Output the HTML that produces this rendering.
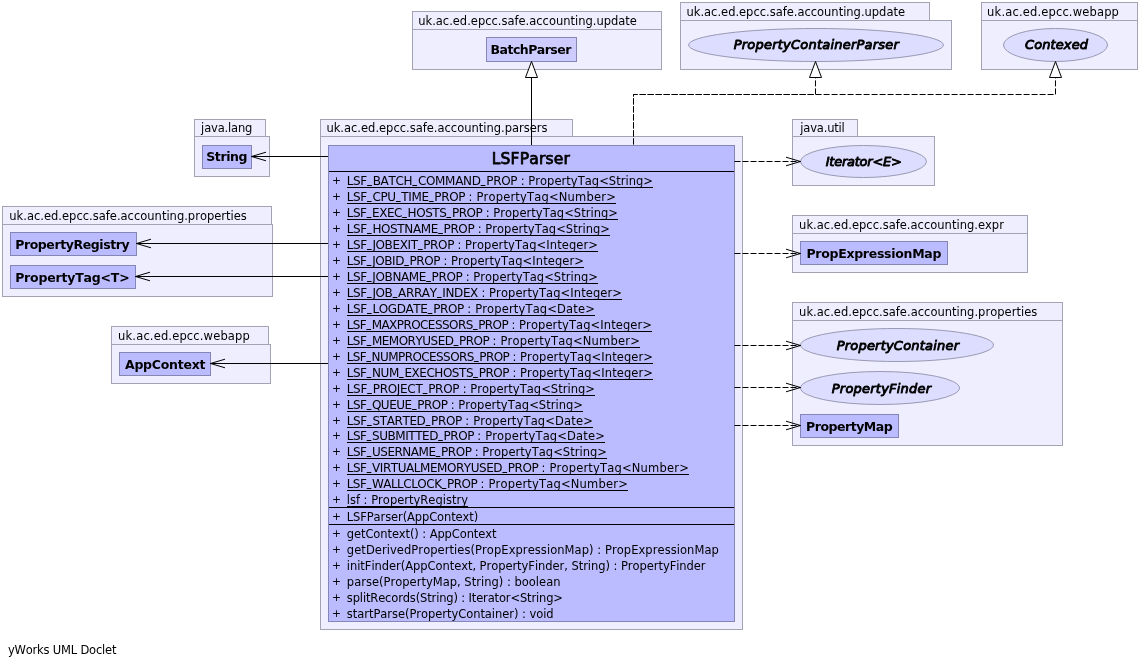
<!DOCTYPE html>
<html lang="en"><head><meta charset="utf-8"><title>LSFParser UML</title>
<style>
html,body{margin:0;padding:0;background:#fff;}
body{width:1140px;height:667px;overflow:hidden;}
svg{display:block;will-change:transform;font-family:"DejaVu Sans","Liberation Sans",sans-serif;}
svg text{white-space:pre;font-kerning:none;}
svg .u{font-size:8px;stroke:#000;stroke-width:0.4px;}
svg .k{stroke:#000;stroke-width:0.9px;stroke-linejoin:round;}
</style></head><body>
<svg width="1140" height="667" viewBox="0 0 1140 667">
<rect width="1140" height="667" fill="#fff"/>
<rect x="412.5" y="11.5" width="249.0" height="18.0" fill="#eeeeff" stroke="#a3a3b4"/>
<rect x="412.5" y="29.5" width="249.0" height="40.0" fill="#eeeeff" stroke="#a3a3b4"/>
<text x="418.22" y="25" font-size="11.5" letter-spacing="-0.007">uk.ac.ed.epcc.safe.accounting.update</text>
<rect x="486.5" y="37.5" width="90.0" height="24.0" fill="#ccccff" stroke="#8686b6"/>
<text x="490.55" y="53.8" font-size="12.5" font-weight="bold" letter-spacing="-0.531">BatchParser</text>
<rect x="680.5" y="2.5" width="249.0" height="18.0" fill="#eeeeff" stroke="#a3a3b4"/>
<rect x="680.5" y="20.5" width="271.0" height="49.0" fill="#eeeeff" stroke="#a3a3b4"/>
<text x="686.52" y="16" font-size="11.5" letter-spacing="-0.013">uk.ac.ed.epcc.safe.accounting.update</text>
<ellipse cx="816.0" cy="45.0" rx="127.5" ry="16.5" fill="#ddddff" stroke="#9999b3"/>
<text x="733.70" y="49" font-size="13" font-style="italic" class="k" letter-spacing="0.221">PropertyContainerParser</text>
<rect x="981.5" y="2.5" width="156.0" height="18.0" fill="#eeeeff" stroke="#a3a3b4"/>
<rect x="981.5" y="20.5" width="156.0" height="49.0" fill="#eeeeff" stroke="#a3a3b4"/>
<text x="987.12" y="16" font-size="11.5" letter-spacing="0.160">uk.ac.ed.epcc.webapp</text>
<ellipse cx="1055.5" cy="45.0" rx="52.0" ry="16.5" fill="#ddddff" stroke="#9999b3"/>
<text x="1025.00" y="49" font-size="13" font-style="italic" class="k" letter-spacing="0.097">Contexed</text>
<rect x="194.5" y="119.5" width="71.0" height="17.0" fill="#eeeeff" stroke="#a3a3b4"/>
<rect x="194.5" y="136.5" width="75.0" height="40.0" fill="#eeeeff" stroke="#a3a3b4"/>
<text x="201.11" y="132" font-size="11.5" letter-spacing="-0.168">java.lang</text>
<rect x="202.5" y="145.5" width="49.0" height="23.0" fill="#bbbbff" stroke="#8686b6"/>
<text x="206.30" y="160.8" font-size="12.5" font-weight="bold" letter-spacing="-0.425">String</text>
<rect x="320.5" y="119.5" width="252.0" height="17.0" fill="#eeeeff" stroke="#a3a3b4"/>
<rect x="320.5" y="136.5" width="422.0" height="493.0" fill="#eeeeff" stroke="#a3a3b4"/>
<text x="326.42" y="132" font-size="11.5" letter-spacing="-0.004">uk.ac.ed.epcc.safe.accounting.parsers</text>
<rect x="792.5" y="119.5" width="65.0" height="17.0" fill="#eeeeff" stroke="#a3a3b4"/>
<rect x="792.5" y="136.5" width="142.0" height="49.0" fill="#eeeeff" stroke="#a3a3b4"/>
<text x="800.31" y="132" font-size="11.5" letter-spacing="-0.183">java.util</text>
<ellipse cx="863.5" cy="161.5" rx="63.0" ry="16.0" fill="#ddddff" stroke="#9999b3"/>
<text x="825.70" y="166" font-size="13" font-style="italic" class="k" letter-spacing="-0.241">Iterator&lt;E&gt;</text>
<rect x="792.5" y="215.5" width="235.0" height="18.0" fill="#eeeeff" stroke="#a3a3b4"/>
<rect x="792.5" y="233.5" width="235.0" height="39.0" fill="#eeeeff" stroke="#a3a3b4"/>
<text x="799.12" y="229" font-size="11.5" letter-spacing="0.014">uk.ac.ed.epcc.safe.accounting.expr</text>
<rect x="800.5" y="241.5" width="147.0" height="23.0" fill="#bbbbff" stroke="#8686b6"/>
<text x="806.45" y="257.8" font-size="12.5" font-weight="bold" letter-spacing="-0.282">PropExpressionMap</text>
<rect x="792.5" y="302.5" width="270.0" height="18.0" fill="#eeeeff" stroke="#a3a3b4"/>
<rect x="792.5" y="320.5" width="270.0" height="125.0" fill="#eeeeff" stroke="#a3a3b4"/>
<text x="799.12" y="316" font-size="11.5" letter-spacing="0.020">uk.ac.ed.epcc.safe.accounting.properties</text>
<ellipse cx="897.0" cy="345.0" rx="96.5" ry="16.5" fill="#ddddff" stroke="#9999b3"/>
<text x="836.70" y="350" font-size="13" font-style="italic" class="k" letter-spacing="0.208">PropertyContainer</text>
<ellipse cx="880.0" cy="388.0" rx="79.5" ry="16.5" fill="#ddddff" stroke="#9999b3"/>
<text x="831.80" y="393" font-size="13" font-style="italic" class="k" letter-spacing="0.218">PropertyFinder</text>
<rect x="800.5" y="414.5" width="98.0" height="23.0" fill="#bbbbff" stroke="#8686b6"/>
<text x="806.05" y="430.8" font-size="12.5" font-weight="bold" letter-spacing="-0.484">PropertyMap</text>
<rect x="2.5" y="206.5" width="269.0" height="18.0" fill="#eeeeff" stroke="#a3a3b4"/>
<rect x="2.5" y="224.5" width="270.0" height="72.0" fill="#eeeeff" stroke="#a3a3b4"/>
<text x="9.32" y="220" font-size="11.5" letter-spacing="0.005">uk.ac.ed.epcc.safe.accounting.properties</text>
<rect x="10.5" y="232.5" width="126.0" height="23.0" fill="#bbbbff" stroke="#8686b6"/>
<text x="15.15" y="248.8" font-size="12.5" font-weight="bold" letter-spacing="-0.408">PropertyRegistry</text>
<rect x="10.5" y="265.5" width="125.0" height="23.0" fill="#bbbbff" stroke="#8686b6"/>
<text x="15.15" y="281.8" font-size="12.5" font-weight="bold" letter-spacing="-0.195">PropertyTag&lt;T&gt;</text>
<rect x="111.5" y="326.5" width="157.0" height="18.0" fill="#eeeeff" stroke="#a3a3b4"/>
<rect x="111.5" y="344.5" width="159.0" height="39.0" fill="#eeeeff" stroke="#a3a3b4"/>
<text x="118.12" y="340" font-size="11.5" letter-spacing="0.155">uk.ac.ed.epcc.webapp</text>
<rect x="119.5" y="352.5" width="91.0" height="23.0" fill="#bbbbff" stroke="#8686b6"/>
<text x="124.94" y="368.8" font-size="12.5" font-weight="bold" letter-spacing="-0.230">AppContext</text>
<rect x="328.5" y="145.5" width="406" height="476" fill="#bbbbff" stroke="#8686b6"/>
<text x="491.78" y="163.8" font-size="15.5" font-weight="normal" stroke="#000" stroke-width="0.75" stroke-linejoin="round" letter-spacing="0.179">LSFParser</text>
<line x1="329" y1="171.5" x2="734" y2="171.5" stroke="#000"/>
<line x1="329" y1="507.5" x2="734" y2="507.5" stroke="#000"/>
<line x1="329" y1="524.5" x2="734" y2="524.5" stroke="#000"/>
<text x="332" y="184.1" font-size="10.7">+</text>
<text y="185" font-size="12"><tspan x="346.70" letter-spacing="-0.322">LSF<tspan class="u" dx="0.5" dy="-1.1">_</tspan><tspan dx="1.5" dy="1.1">BATCH</tspan><tspan class="u" dx="0.5" dy="-1.1">_</tspan><tspan dx="1.5" dy="1.1">COMMAND</tspan><tspan class="u" dx="0.5" dy="-1.1">_</tspan><tspan dx="1.5" dy="1.1">PROP </tspan></tspan><tspan x="520.70" font-size="11.5" letter-spacing="0.033">: PropertyTag&lt;String&gt;</tspan></text>
<line x1="347" y1="187.5" x2="653" y2="187.5" stroke="#000"/>
<text x="332" y="200.1" font-size="10.7">+</text>
<text y="201" font-size="12"><tspan x="346.70" letter-spacing="-0.371">LSF<tspan class="u" dx="0.5" dy="-1.1">_</tspan><tspan dx="1.5" dy="1.1">CPU</tspan><tspan class="u" dx="0.5" dy="-1.1">_</tspan><tspan dx="1.5" dy="1.1">TIME</tspan><tspan class="u" dx="0.5" dy="-1.1">_</tspan><tspan dx="1.5" dy="1.1">PROP </tspan></tspan><tspan x="468.50" font-size="11.5" letter-spacing="0.191">: PropertyTag&lt;Number&gt;</tspan></text>
<line x1="347" y1="203.5" x2="616" y2="203.5" stroke="#000"/>
<text x="332" y="216.1" font-size="10.7">+</text>
<text y="217" font-size="12"><tspan x="346.70" letter-spacing="-0.454">LSF<tspan class="u" dx="0.5" dy="-1.1">_</tspan><tspan dx="1.5" dy="1.1">EXEC</tspan><tspan class="u" dx="0.5" dy="-1.1">_</tspan><tspan dx="1.5" dy="1.1">HOSTS</tspan><tspan class="u" dx="0.5" dy="-1.1">_</tspan><tspan dx="1.5" dy="1.1">PROP </tspan></tspan><tspan x="485.70" font-size="11.5" letter-spacing="0.033">: PropertyTag&lt;String&gt;</tspan></text>
<line x1="347" y1="219.5" x2="618" y2="219.5" stroke="#000"/>
<text x="332" y="232.1" font-size="10.7">+</text>
<text y="233" font-size="12"><tspan x="346.70" letter-spacing="-0.378">LSF<tspan class="u" dx="0.5" dy="-1.1">_</tspan><tspan dx="1.5" dy="1.1">HOSTNAME</tspan><tspan class="u" dx="0.5" dy="-1.1">_</tspan><tspan dx="1.5" dy="1.1">PROP </tspan></tspan><tspan x="477.70" font-size="11.5" letter-spacing="0.033">: PropertyTag&lt;String&gt;</tspan></text>
<line x1="347" y1="235.5" x2="610" y2="235.5" stroke="#000"/>
<text x="332" y="248.1" font-size="10.7">+</text>
<text y="249" font-size="12"><tspan x="346.70" letter-spacing="-0.380">LSF<tspan class="u" dx="0.5" dy="-1.1">_</tspan><tspan dx="1.5" dy="1.1">JOBEXIT</tspan><tspan class="u" dx="0.5" dy="-1.1">_</tspan><tspan dx="1.5" dy="1.1">PROP </tspan></tspan><tspan x="457.40" font-size="11.5" letter-spacing="0.088">: PropertyTag&lt;Integer&gt;</tspan></text>
<line x1="347" y1="251.5" x2="598" y2="251.5" stroke="#000"/>
<text x="332" y="264.1" font-size="10.7">+</text>
<text y="265" font-size="12"><tspan x="346.70" letter-spacing="-0.438">LSF<tspan class="u" dx="0.5" dy="-1.1">_</tspan><tspan dx="1.5" dy="1.1">JOBID</tspan><tspan class="u" dx="0.5" dy="-1.1">_</tspan><tspan dx="1.5" dy="1.1">PROP </tspan></tspan><tspan x="443.40" font-size="11.5" letter-spacing="0.088">: PropertyTag&lt;Integer&gt;</tspan></text>
<line x1="347" y1="267.5" x2="584" y2="267.5" stroke="#000"/>
<text x="332" y="280.1" font-size="10.7">+</text>
<text y="281" font-size="12"><tspan x="346.70" letter-spacing="-0.389">LSF<tspan class="u" dx="0.5" dy="-1.1">_</tspan><tspan dx="1.5" dy="1.1">JOBNAME</tspan><tspan class="u" dx="0.5" dy="-1.1">_</tspan><tspan dx="1.5" dy="1.1">PROP </tspan></tspan><tspan x="465.70" font-size="11.5" letter-spacing="0.033">: PropertyTag&lt;String&gt;</tspan></text>
<line x1="347" y1="283.5" x2="598" y2="283.5" stroke="#000"/>
<text x="332" y="296.1" font-size="10.7">+</text>
<text y="297" font-size="12"><tspan x="346.70" letter-spacing="-0.376">LSF<tspan class="u" dx="0.5" dy="-1.1">_</tspan><tspan dx="1.5" dy="1.1">JOB</tspan><tspan class="u" dx="0.5" dy="-1.1">_</tspan><tspan dx="1.5" dy="1.1">ARRAY</tspan><tspan class="u" dx="0.5" dy="-1.1">_</tspan><tspan dx="1.5" dy="1.1">INDEX </tspan></tspan><tspan x="481.40" font-size="11.5" letter-spacing="0.088">: PropertyTag&lt;Integer&gt;</tspan></text>
<line x1="347" y1="299.5" x2="622" y2="299.5" stroke="#000"/>
<text x="332" y="312.1" font-size="10.7">+</text>
<text y="313" font-size="12"><tspan x="346.70" letter-spacing="-0.380">LSF<tspan class="u" dx="0.5" dy="-1.1">_</tspan><tspan dx="1.5" dy="1.1">LOGDATE</tspan><tspan class="u" dx="0.5" dy="-1.1">_</tspan><tspan dx="1.5" dy="1.1">PROP </tspan></tspan><tspan x="467.30" font-size="11.5" letter-spacing="0.154">: PropertyTag&lt;Date&gt;</tspan></text>
<line x1="347" y1="315.5" x2="595" y2="315.5" stroke="#000"/>
<text x="332" y="328.1" font-size="10.7">+</text>
<text y="329" font-size="12"><tspan x="346.70" letter-spacing="-0.564">LSF<tspan class="u" dx="0.5" dy="-1.1">_</tspan><tspan dx="1.5" dy="1.1">MAXPROCESSORS</tspan><tspan class="u" dx="0.5" dy="-1.1">_</tspan><tspan dx="1.5" dy="1.1">PROP </tspan></tspan><tspan x="511.40" font-size="11.5" letter-spacing="0.088">: PropertyTag&lt;Integer&gt;</tspan></text>
<line x1="347" y1="331.5" x2="652" y2="331.5" stroke="#000"/>
<text x="332" y="344.1" font-size="10.7">+</text>
<text y="345" font-size="12"><tspan x="346.70" letter-spacing="-0.505">LSF<tspan class="u" dx="0.5" dy="-1.1">_</tspan><tspan dx="1.5" dy="1.1">MEMORYUSED</tspan><tspan class="u" dx="0.5" dy="-1.1">_</tspan><tspan dx="1.5" dy="1.1">PROP </tspan></tspan><tspan x="492.50" font-size="11.5" letter-spacing="0.191">: PropertyTag&lt;Number&gt;</tspan></text>
<line x1="347" y1="347.5" x2="640" y2="347.5" stroke="#000"/>
<text x="332" y="360.1" font-size="10.7">+</text>
<text y="361" font-size="12"><tspan x="346.70" letter-spacing="-0.578">LSF<tspan class="u" dx="0.5" dy="-1.1">_</tspan><tspan dx="1.5" dy="1.1">NUMPROCESSORS</tspan><tspan class="u" dx="0.5" dy="-1.1">_</tspan><tspan dx="1.5" dy="1.1">PROP </tspan></tspan><tspan x="512.40" font-size="11.5" letter-spacing="0.088">: PropertyTag&lt;Integer&gt;</tspan></text>
<line x1="347" y1="363.5" x2="653" y2="363.5" stroke="#000"/>
<text x="332" y="376.1" font-size="10.7">+</text>
<text y="377" font-size="12"><tspan x="346.70" letter-spacing="-0.456">LSF<tspan class="u" dx="0.5" dy="-1.1">_</tspan><tspan dx="1.5" dy="1.1">NUM</tspan><tspan class="u" dx="0.5" dy="-1.1">_</tspan><tspan dx="1.5" dy="1.1">EXECHOSTS</tspan><tspan class="u" dx="0.5" dy="-1.1">_</tspan><tspan dx="1.5" dy="1.1">PROP </tspan></tspan><tspan x="512.40" font-size="11.5" letter-spacing="0.088">: PropertyTag&lt;Integer&gt;</tspan></text>
<line x1="347" y1="379.5" x2="653" y2="379.5" stroke="#000"/>
<text x="332" y="392.1" font-size="10.7">+</text>
<text y="393" font-size="12"><tspan x="346.70" letter-spacing="-0.301">LSF<tspan class="u" dx="0.5" dy="-1.1">_</tspan><tspan dx="1.5" dy="1.1">PROJECT</tspan><tspan class="u" dx="0.5" dy="-1.1">_</tspan><tspan dx="1.5" dy="1.1">PROP </tspan></tspan><tspan x="462.70" font-size="11.5" letter-spacing="0.033">: PropertyTag&lt;String&gt;</tspan></text>
<line x1="347" y1="395.5" x2="595" y2="395.5" stroke="#000"/>
<text x="332" y="408.1" font-size="10.7">+</text>
<text y="409" font-size="12"><tspan x="346.70" letter-spacing="-0.497">LSF<tspan class="u" dx="0.5" dy="-1.1">_</tspan><tspan dx="1.5" dy="1.1">QUEUE</tspan><tspan class="u" dx="0.5" dy="-1.1">_</tspan><tspan dx="1.5" dy="1.1">PROP </tspan></tspan><tspan x="450.70" font-size="11.5" letter-spacing="0.033">: PropertyTag&lt;String&gt;</tspan></text>
<line x1="347" y1="411.5" x2="583" y2="411.5" stroke="#000"/>
<text x="332" y="424.1" font-size="10.7">+</text>
<text y="425" font-size="12"><tspan x="346.70" letter-spacing="-0.372">LSF<tspan class="u" dx="0.5" dy="-1.1">_</tspan><tspan dx="1.5" dy="1.1">STARTED</tspan><tspan class="u" dx="0.5" dy="-1.1">_</tspan><tspan dx="1.5" dy="1.1">PROP </tspan></tspan><tspan x="465.30" font-size="11.5" letter-spacing="0.154">: PropertyTag&lt;Date&gt;</tspan></text>
<line x1="347" y1="427.5" x2="593" y2="427.5" stroke="#000"/>
<text x="332" y="439.1" font-size="10.7">+</text>
<text y="440" font-size="12"><tspan x="346.70" letter-spacing="-0.457">LSF<tspan class="u" dx="0.5" dy="-1.1">_</tspan><tspan dx="1.5" dy="1.1">SUBMITTED</tspan><tspan class="u" dx="0.5" dy="-1.1">_</tspan><tspan dx="1.5" dy="1.1">PROP </tspan></tspan><tspan x="477.30" font-size="11.5" letter-spacing="0.154">: PropertyTag&lt;Date&gt;</tspan></text>
<line x1="347" y1="442.5" x2="605" y2="442.5" stroke="#000"/>
<text x="332" y="455.1" font-size="10.7">+</text>
<text y="456" font-size="12"><tspan x="346.70" letter-spacing="-0.484">LSF<tspan class="u" dx="0.5" dy="-1.1">_</tspan><tspan dx="1.5" dy="1.1">USERNAME</tspan><tspan class="u" dx="0.5" dy="-1.1">_</tspan><tspan dx="1.5" dy="1.1">PROP </tspan></tspan><tspan x="474.70" font-size="11.5" letter-spacing="0.033">: PropertyTag&lt;String&gt;</tspan></text>
<line x1="347" y1="458.5" x2="607" y2="458.5" stroke="#000"/>
<text x="332" y="471.1" font-size="10.7">+</text>
<text y="472" font-size="12"><tspan x="346.70" letter-spacing="-0.452">LSF<tspan class="u" dx="0.5" dy="-1.1">_</tspan><tspan dx="1.5" dy="1.1">VIRTUALMEMORYUSED</tspan><tspan class="u" dx="0.5" dy="-1.1">_</tspan><tspan dx="1.5" dy="1.1">PROP </tspan></tspan><tspan x="541.50" font-size="11.5" letter-spacing="0.191">: PropertyTag&lt;Number&gt;</tspan></text>
<line x1="347" y1="474.5" x2="689" y2="474.5" stroke="#000"/>
<text x="332" y="487.1" font-size="10.7">+</text>
<text y="488" font-size="12"><tspan x="346.70" letter-spacing="-0.509">LSF<tspan class="u" dx="0.5" dy="-1.1">_</tspan><tspan dx="1.5" dy="1.1">WALLCLOCK</tspan><tspan class="u" dx="0.5" dy="-1.1">_</tspan><tspan dx="1.5" dy="1.1">PROP </tspan></tspan><tspan x="480.50" font-size="11.5" letter-spacing="0.191">: PropertyTag&lt;Number&gt;</tspan></text>
<line x1="347" y1="490.5" x2="628" y2="490.5" stroke="#000"/>
<text x="332" y="503.1" font-size="10.7">+</text>
<text x="346.70" y="504" font-size="11.5" letter-spacing="0.008">lsf : PropertyRegistry</text>
<line x1="347" y1="506.5" x2="468" y2="506.5" stroke="#000"/>
<text x="332" y="520.1" font-size="10.7">+</text>
<text x="346.77" y="521" font-size="11.5" letter-spacing="-0.105">LSFParser(AppContext)</text>
<text x="332" y="537.1" font-size="10.7">+</text>
<text x="346.83" y="538" font-size="11.5" letter-spacing="-0.099">getContext() : AppContext</text>
<text x="332" y="553.1" font-size="10.7">+</text>
<text x="346.83" y="554" font-size="11.5" letter-spacing="0.060">getDerivedProperties(PropExpressionMap) : PropExpressionMap</text>
<text x="332" y="569.1" font-size="10.7">+</text>
<text x="346.85" y="570" font-size="11.5" letter-spacing="-0.050">initFinder(AppContext, PropertyFinder, String) : PropertyFinder</text>
<text x="332" y="585.1" font-size="10.7">+</text>
<text x="346.85" y="586" font-size="11.5" letter-spacing="0.010">parse(PropertyMap, String) : boolean</text>
<text x="332" y="601.1" font-size="10.7">+</text>
<text x="346.83" y="602" font-size="11.5" letter-spacing="-0.146">splitRecords(String) : Iterator&lt;String&gt;</text>
<text x="332" y="617.1" font-size="10.7">+</text>
<text x="346.83" y="618" font-size="11.5" letter-spacing="-0.044">startParse(PropertyContainer) : void</text>
<line x1="531.5" y1="77.5" x2="531.5" y2="145" stroke="#000"/>
<path d="M531.5 61.5L537.5 77.5L525.5 77.5Z" fill="#fff" stroke="#000"/>
<path d="M633.5 144.4V94.5H1055.5V77.5" fill="none" stroke="#000" stroke-dasharray="6 2"/>
<path d="M633.5 144.4V94.5H815.5V77.5" fill="none" stroke="#000" stroke-dasharray="6 2"/>
<path d="M815.5 61.5L821.5 77.5L809.5 77.5Z" fill="#fff" stroke="#000"/>
<path d="M1055.5 61.5L1061.5 77.5L1049.5 77.5Z" fill="#fff" stroke="#000"/>
<line x1="328" y1="156.5" x2="251.5" y2="156.5" stroke="#000"/>
<path d="M266.0 152.2L251.5 156.5L266.0 160.8" fill="none" stroke="#000"/>
<line x1="328" y1="243.5" x2="136.5" y2="243.5" stroke="#000"/>
<path d="M151.0 239.2L136.5 243.5L151.0 247.8" fill="none" stroke="#000"/>
<line x1="328" y1="276.5" x2="135.5" y2="276.5" stroke="#000"/>
<path d="M150.0 272.2L135.5 276.5L150.0 280.8" fill="none" stroke="#000"/>
<line x1="328" y1="363.5" x2="210.5" y2="363.5" stroke="#000"/>
<path d="M225.0 359.2L210.5 363.5L225.0 367.8" fill="none" stroke="#000"/>
<line x1="734.5" y1="161.5" x2="800.5" y2="161.5" stroke="#000" stroke-dasharray="6 2"/>
<path d="M786.0 157.2L800.5 161.5L786.0 165.8" fill="none" stroke="#000"/>
<line x1="734.5" y1="253.5" x2="800.5" y2="253.5" stroke="#000" stroke-dasharray="6 2"/>
<path d="M786.0 249.2L800.5 253.5L786.0 257.8" fill="none" stroke="#000"/>
<line x1="734.5" y1="345.5" x2="800.5" y2="345.5" stroke="#000" stroke-dasharray="6 2"/>
<path d="M786.0 341.2L800.5 345.5L786.0 349.8" fill="none" stroke="#000"/>
<line x1="734.5" y1="387.5" x2="800.5" y2="387.5" stroke="#000" stroke-dasharray="6 2"/>
<path d="M786.0 383.2L800.5 387.5L786.0 391.8" fill="none" stroke="#000"/>
<line x1="734.5" y1="425.5" x2="800.5" y2="425.5" stroke="#000" stroke-dasharray="6 2"/>
<path d="M786.0 421.2L800.5 425.5L786.0 429.8" fill="none" stroke="#000"/>
<text x="7.96" y="654" font-size="11.5" letter-spacing="-0.195">yWorks UML Doclet</text>
</svg>
</body></html>
